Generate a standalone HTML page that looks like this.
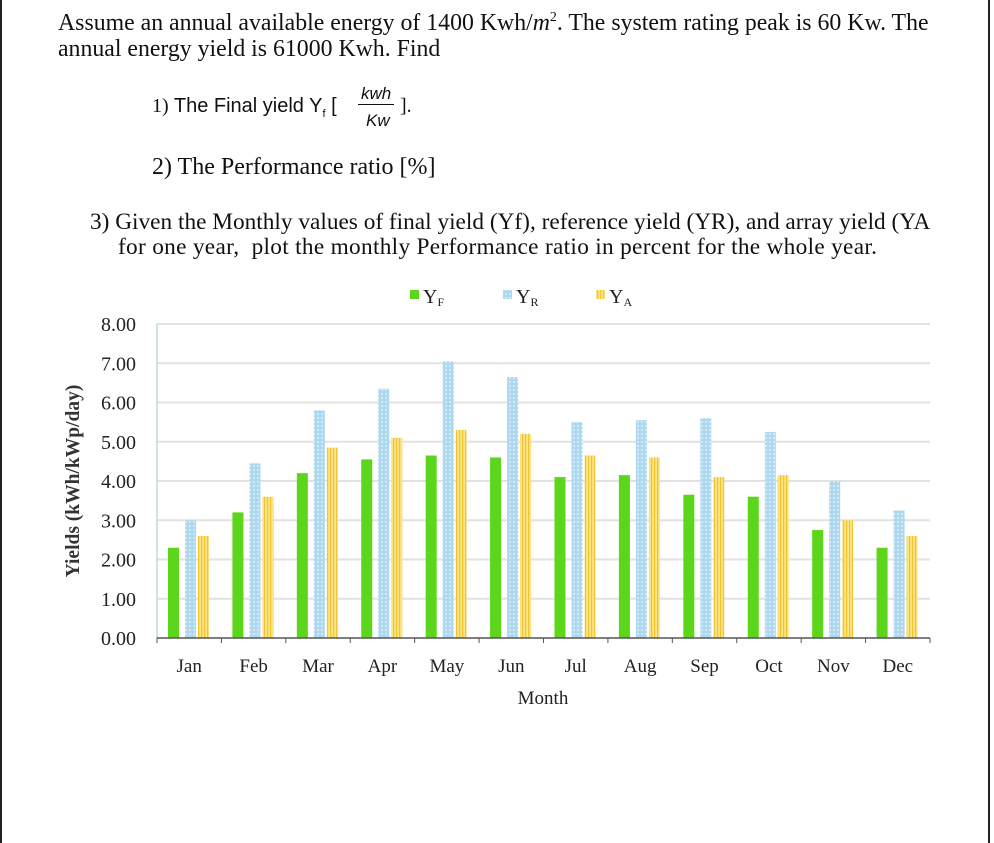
<!DOCTYPE html>
<html><head><meta charset="utf-8">
<style>
html,body{margin:0;padding:0;background:#fff;}
body{width:994px;height:843px;position:relative;overflow:hidden;font-family:"Liberation Serif",serif;color:#111;}
.t{position:absolute;white-space:nowrap;}
#frame{position:absolute;left:0;top:0;width:990px;height:843px;border-left:2px solid #222;border-right:2px solid #222;box-sizing:border-box;}
</style></head><body>
<div id="frame"></div>
<div class="t" style="left:58px;top:10px;font-size:23.8px;">Assume an annual available energy of 1400 Kwh/<i>m</i><sup style="font-size:14px">2</sup>. The system rating peak is 60 Kw. The</div>
<div class="t" style="left:58px;top:36px;font-size:23.8px;">annual energy yield is 61000 Kwh. Find</div>
<div class="t" style="left:152px;top:95px;font-size:20px;font-family:'Liberation Sans',sans-serif;"><span style="font-family:'Liberation Serif',serif">1)</span> The Final yield Y<sub style="font-size:11px">f</sub> [</div>
<div class="t" style="left:358px;top:84px;font-size:17px;font-style:italic;font-family:'Liberation Sans',sans-serif;border-bottom:1px solid #111;padding:0 3px;">kwh</div>
<div class="t" style="left:366px;top:111px;font-size:17px;font-style:italic;font-family:'Liberation Sans',sans-serif;">Kw</div>
<div class="t" style="left:400px;top:95px;font-size:20px;">].</div>
<div class="t" style="left:152px;top:154px;font-size:24px;">2) The Performance ratio [%]</div>
<div class="t" style="left:90px;top:209px;font-size:23.3px;">3) Given the Monthly values of final yield (Yf), reference yield (YR), and array yield (YA</div>
<div class="t" style="left:118px;top:234px;font-size:23.3px;letter-spacing:0.3px;">for one year,&nbsp; plot the monthly Performance ratio in percent for the whole year.</div>
<svg id="chart" width="994" height="843" style="position:absolute;left:0;top:0;">
<defs>
<pattern id="pb" width="4" height="4" patternUnits="userSpaceOnUse"><rect width="4" height="4" fill="#aed8f0"/><circle cx="2" cy="2" r="0.9" fill="#eaf6fd"/></pattern>
<pattern id="py" width="3" height="4" patternUnits="userSpaceOnUse"><rect width="3" height="4" fill="#fbe58a"/><rect width="1.2" height="4" fill="#f2c530"/></pattern>
</defs>
</svg>
<script>
const months=["Jan","Feb","Mar","Apr","May","Jun","Jul","Aug","Sep","Oct","Nov","Dec"];
const yf=[2.3,3.2,4.2,4.55,4.65,4.6,4.1,4.15,3.65,3.6,2.75,2.3];
const yr=[3.0,4.45,5.8,6.35,7.05,6.65,5.5,5.55,5.6,5.25,4.0,3.25];
const ya=[2.6,3.6,4.85,5.1,5.3,5.2,4.65,4.6,4.1,4.15,3.0,2.6];
const ticks=["0.00","1.00","2.00","3.00","4.00","5.00","6.00","7.00","8.00"];
const svg=document.getElementById('chart');
const NS='http://www.w3.org/2000/svg';
const x0=157,x1=930,y0=638,y8=324;
const yS=v=>y0-(y0-y8)*v/8;
const gw=(x1-x0)/months.length;
const xG=i=>x0+gw*i;
function mk(t,a){const e=document.createElementNS(NS,t);for(const k in a)e.setAttribute(k,a[k]);svg.appendChild(e);return e;}
ticks.forEach((t,i)=>{
  const y=yS(i);
  if(i>0){const g=mk('line',{x1:x0,x2:x1,y1:y,y2:y,stroke:'#e2e2e2','stroke-width':2});
  
  }
  const l=mk('text',{x:136,y:y+7,'text-anchor':'end','font-size':20,'font-family':'Liberation Serif, serif',fill:'#222'});
  l.textContent=t;
  
  
});
const ax=mk('line',{x1:x0,x2:x0,y1:y8,y2:y0,stroke:'#9cc',"stroke-width":1});


const series=[[yf,'#5cd61a',11,'bar-yf'],[yr,'url(#pb)',28,'bar-yr'],[ya,'url(#py)',41,'bar-ya']];
months.forEach((m,i)=>{
  series.forEach(s=>{
    const v=s[0][i];
    const r=mk('rect',{x:xG(i)+s[2],y:yS(v),width:11,height:y0-yS(v),fill:s[1]});
    
    
  });
  const tk=mk('line',{x1:xG(i),x2:xG(i),y1:y0,y2:y0+5,stroke:'#555'});
  
  
  const l=mk('text',{x:xG(i)+gw/2,y:672,'text-anchor':'middle','font-size':19,'font-family':'Liberation Serif, serif',fill:'#222'});
  l.textContent=m;
  
  
});
const tkE=mk('line',{x1:x1,x2:x1,y1:y0,y2:y0+5,stroke:'#555'});


const xa=mk('line',{x1:x0,x2:x1,y1:y0,y2:y0,stroke:'#555','stroke-width':1.5});


const xt=mk('text',{x:543,y:704,'text-anchor':'middle','font-size':19,'font-family':'Liberation Serif, serif',fill:'#222'});
xt.textContent='Month';


const yt=mk('text',{x:0,y:0,'text-anchor':'middle','font-size':19.5,'font-weight':'bold','font-family':'Liberation Serif, serif',fill:'#333',transform:'translate(79,481) rotate(-90)'});
yt.textContent='Yields (kWh/kWp/day)';


const leg=[['#5cd61a','Y','F',410],['url(#pb)','Y','R',503],['url(#py)','Y','A',596]];
leg.forEach(e=>{
  const r=mk('rect',{x:e[3],y:290,width:9,height:9,fill:e[0]});
  
  
  const t=mk('text',{x:e[3]+13,y:303,'font-size':20,'font-family':'Liberation Serif, serif',fill:'#222'});
  t.innerHTML=e[1]+'<tspan font-size="12" dy="3">'+e[2]+'</tspan>';
  
  
});
</script>
</body></html>
